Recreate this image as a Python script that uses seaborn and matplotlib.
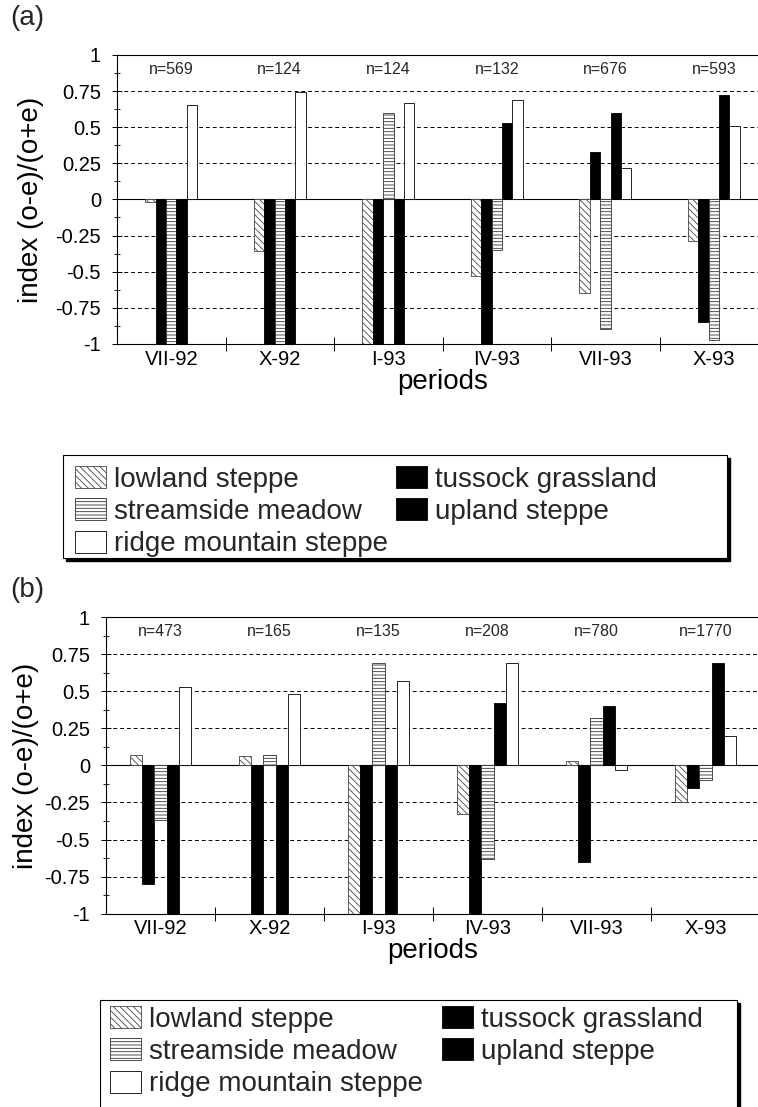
import numpy as np
import pandas as pd
import seaborn as sns
import matplotlib.pyplot as plt
import matplotlib.patches as mpatches
from matplotlib.ticker import MultipleLocator, FuncFormatter

# categories
periods = ['VII-92', 'X-92', 'I-93', 'IV-93', 'VII-93', 'X-93']
habitats = ['lowland steppe', 'tussock grassland', 'streamside meadow',
            'upland steppe', 'ridge mountain steppe']

# panel (a) values, index (o-e)/(o+e)
lowland_a = [-0.02, -0.36, -1.0, -0.53, -0.65, -0.29]
tussock_a = [-1.0, -1.0, -1.0, -1.0, 0.33, -0.85]
streamside_a = [-1.0, -1.0, 0.60, -0.35, -0.90, -0.97]
upland_a = [-1.0, -1.0, -1.0, 0.53, 0.60, 0.72]
ridge_a = [0.65, 0.74, 0.67, 0.69, 0.22, 0.51]
n_a = [569, 124, 124, 132, 676, 593]

# panel (b) values
lowland_b = [0.07, 0.06, -1.0, -0.33, 0.03, -0.25]
tussock_b = [-0.80, -1.0, -1.0, -1.0, -0.65, -0.15]
streamside_b = [-0.37, 0.07, 0.69, -0.63, 0.32, -0.10]
upland_b = [-1.0, -1.0, -1.0, 0.42, 0.40, 0.69]
ridge_b = [0.53, 0.48, 0.57, 0.69, -0.03, 0.20]
n_b = [473, 165, 135, 208, 780, 1770]

sns.set_theme(style='white')
plt.rcParams['font.family'] = ['Liberation Sans', 'DejaVu Sans']
plt.rcParams['hatch.linewidth'] = 0.6
plt.rcParams['axes.unicode_minus'] = False

# bar look per habitat: face, edge, hatch
faces = {'lowland steppe': 'white', 'tussock grassland': 'black',
         'streamside meadow': 'white', 'upland steppe': 'black',
         'ridge mountain steppe': 'white'}
edges = {'lowland steppe': '#444444', 'tussock grassland': 'black',
         'streamside meadow': '#333333', 'upland steppe': 'black',
         'ridge mountain steppe': 'black'}
hatches = {'lowland steppe': '\\\\\\\\\\', 'tussock grassland': None,
           'streamside meadow': '-----', 'upland steppe': None,
           'ridge mountain steppe': None}


def make_df(cols):
    rows = []
    for hab, vals in zip(habitats, cols):
        for p, v in zip(periods, vals):
            rows.append({'period': p, 'habitat': hab, 'value': v})
    return pd.DataFrame(rows)


def draw_panel(ax, df, ns, width, ylabelpad):
    sns.barplot(data=df, x='period', y='value', hue='habitat',
                order=periods, hue_order=habitats, palette=faces,
                width=width, errorbar=None, legend=False, saturation=1,
                linewidth=0.6, ax=ax)
    for hab, cont in zip(habitats, ax.containers):
        for bar in cont:
            bar.set_edgecolor(edges[hab])
            if hatches[hab]:
                bar.set_hatch(hatches[hab])
            bar.set_zorder(2)

    for y in [-0.75, -0.5, -0.25, 0.25, 0.5, 0.75]:
        ax.axhline(y, color='black', lw=0.7, ls=(0, (4, 3)), zorder=0.5)
    ax.axhline(0, color='black', lw=0.8, zorder=0.5)

    for i, n in enumerate(ns):
        ax.text(i, 0.9, f'n={n}', ha='center', va='center', fontsize=11.5)

    ax.set_ylim(-1, 1)
    ax.set_xlim(-0.5, 5.5)
    ax.yaxis.set_major_locator(MultipleLocator(0.25))
    ax.yaxis.set_minor_locator(MultipleLocator(0.125))
    ax.yaxis.set_major_formatter(FuncFormatter(lambda v, p: f'{v:g}'))
    ax.tick_params(axis='y', which='major', direction='inout', length=7,
                   width=0.7, colors='black', labelsize=14.5, pad=8, left=True)
    ax.tick_params(axis='y', which='minor', direction='inout', length=5,
                   width=0.6, colors='black', left=True)
    ax.set_xticks(np.arange(0.5, 5, 1), minor=True)
    ax.tick_params(axis='x', which='major', length=0, labelsize=14.5,
                   colors='black', pad=4)
    ax.tick_params(axis='x', which='minor', direction='inout', length=10,
                   width=0.7, colors='black', bottom=True)
    ax.set_xlabel('periods', fontsize=20, labelpad=0, color='black')
    ax.set_ylabel('index (o-e)/(o+e)', fontsize=20, labelpad=ylabelpad,
                  color='black')
    for s in ['left', 'bottom', 'top']:
        ax.spines[s].set_visible(True)
        ax.spines[s].set_color('black')
        ax.spines[s].set_linewidth(0.8)
    ax.spines['right'].set_visible(False)


def legend_box(fig, x0, y0, x1, y1):
    W, H = 758, 1107
    shadow = mpatches.Rectangle((x0 / W + 3 / W, 1 - y1 / H - 3 / H),
                                (x1 - x0) / W, (y1 - y0) / H,
                                transform=fig.transFigure, facecolor='black',
                                edgecolor='black', zorder=0)
    box = mpatches.Rectangle((x0 / W, 1 - y1 / H), (x1 - x0) / W, (y1 - y0) / H,
                             transform=fig.transFigure, facecolor='white',
                             edgecolor='black', lw=0.8, zorder=1)
    fig.patches.extend([shadow, box])


def legend_handles():
    order = ['lowland steppe', 'streamside meadow', 'ridge mountain steppe',
             'tussock grassland', 'upland steppe']
    hs = [mpatches.Patch(facecolor=faces[h], edgecolor=edges[h],
                         hatch=hatches[h], lw=0.6, label=h) for h in order]
    return hs, order


fig = plt.figure(figsize=(7.58, 11.07), dpi=100)
ax_a = fig.add_axes([0.1544, 0.6893, 0.8589, 0.2611])
ax_b = fig.add_axes([0.1398, 0.1746, 0.8628, 0.2680])

draw_panel(ax_a, make_df([lowland_a, tussock_a, streamside_a, upland_a, ridge_a]),
           n_a, 0.48, 8)
draw_panel(ax_b, make_df([lowland_b, tussock_b, streamside_b, upland_b, ridge_b]),
           n_b, 0.56, 4)

fig.text(0.013, 0.984, '(a)', fontsize=20, va='center', ha='left')
fig.text(0.013, 0.467, '(b)', fontsize=20, va='center', ha='left')

legend_box(fig, 63, 455, 727, 558)
legend_box(fig, 100, 1000, 737, 1115)

hs, labs = legend_handles()
leg_kw = dict(loc='upper left', ncol=2, frameon=False, fontsize=20,
              handlelength=1.1, handleheight=0.85, handletextpad=0.3,
              labelspacing=0.2, borderpad=0, borderaxespad=0)
la = fig.legend(hs, labs, bbox_to_anchor=(75 / 758, 1 - 466 / 1107),
                columnspacing=0.3, **leg_kw)
lb = fig.legend(hs, labs, bbox_to_anchor=(110 / 758, 1 - 1006 / 1107),
                columnspacing=0.7, **leg_kw)
la.set_zorder(3)
lb.set_zorder(3)

fig.savefig('out.png', dpi=100)
